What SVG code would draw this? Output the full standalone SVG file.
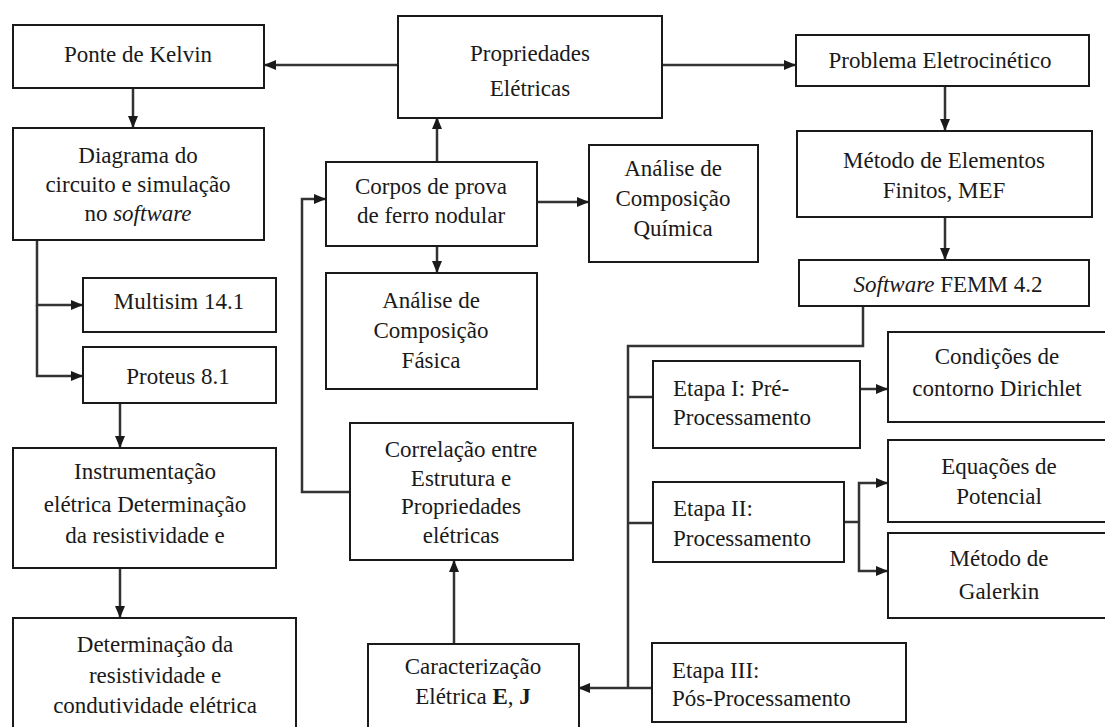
<svg xmlns="http://www.w3.org/2000/svg" width="1105" height="727" viewBox="0 0 1105 727">
<style>
.box{fill:#fff;stroke:#1a1a1a;stroke-width:2}
.t{font-size:23px;fill:#1a1a1a;text-anchor:middle}
.l{text-anchor:start}
.c{fill:none;stroke:#333;stroke-width:2.5}
</style>
<defs>
<marker id="ah" markerUnits="userSpaceOnUse" markerWidth="12" markerHeight="12" viewBox="0 0 12 12" refX="11" refY="6" orient="auto">
<path d="M0,1 L12,6 L0,11 z" fill="#1a1a1a"/>
</marker>
</defs>
<rect width="1105" height="727" fill="#fff"/>
<g id="connectors">
<line class="c" x1="398" y1="65" x2="265" y2="65" marker-end="url(#ah)"/>
<line class="c" x1="662" y1="65" x2="795" y2="65" marker-end="url(#ah)"/>
<line class="c" x1="133" y1="88" x2="133" y2="127" marker-end="url(#ah)"/>
<line class="c" x1="437" y1="162" x2="437" y2="118" marker-end="url(#ah)"/>
<line class="c" x1="537" y1="202" x2="588" y2="202" marker-end="url(#ah)"/>
<line class="c" x1="437" y1="246" x2="437" y2="272" marker-end="url(#ah)"/>
<path class="c" d="M350,492 H302 V199 H325" marker-end="url(#ah)"/>
<path class="c" d="M37,240 V305 H82" marker-end="url(#ah)"/>
<path class="c" d="M37,305 V376 H82" marker-end="url(#ah)"/>
<line class="c" x1="120" y1="403" x2="120" y2="447" marker-end="url(#ah)"/>
<line class="c" x1="120" y1="568" x2="120" y2="617" marker-end="url(#ah)"/>
<line class="c" x1="945" y1="86" x2="945" y2="130" marker-end="url(#ah)"/>
<line class="c" x1="945" y1="217" x2="945" y2="259" marker-end="url(#ah)"/>
<path class="c" d="M863,306 V346 H628 V688"/>
<path class="c" d="M628,397 H653"/>
<path class="c" d="M628,523 H653"/>
<path class="c" d="M652,688 H579" marker-end="url(#ah)"/>
<path class="c" d="M860,389 H887" marker-end="url(#ah)"/>
<path class="c" d="M844,522 H859"/>
<path class="c" d="M859,522 V483 H887" marker-end="url(#ah)"/>
<path class="c" d="M859,522 V571 H887" marker-end="url(#ah)"/>
<line class="c" x1="454" y1="643" x2="454" y2="561" marker-end="url(#ah)"/>
</g>
<g id="ponte" font-family="Liberation Serif"><rect class="box" x="13" y="25" width="251" height="63"/><text font-family="Liberation Serif" class="t" x="138" y="62">Ponte de Kelvin</text></g>
<g id="propriedades" font-family="Liberation Serif"><rect class="box" x="398" y="16" width="264" height="102"/><text font-family="Liberation Serif" class="t" x="530" y="61">Propriedades</text><text font-family="Liberation Serif" class="t" x="530" y="96">Elétricas</text></g>
<g id="problema" font-family="Liberation Serif"><rect class="box" x="796" y="35" width="293" height="51"/><text font-family="Liberation Serif" class="t" x="940" y="68">Problema Eletrocinético</text></g>
<g id="diagrama" font-family="Liberation Serif"><rect class="box" x="13" y="128" width="251" height="112"/><text font-family="Liberation Serif" class="t" x="138" y="163">Diagrama do</text><text font-family="Liberation Serif" class="t" x="138" y="192">circuito e simulação</text><text font-family="Liberation Serif" class="t" x="138" y="221">no <tspan font-style="italic">software</tspan></text></g>
<g id="corpos" font-family="Liberation Serif"><rect class="box" x="326" y="162" width="211" height="84"/><text font-family="Liberation Serif" class="t" x="431" y="194">Corpos de prova</text><text font-family="Liberation Serif" class="t" x="431" y="223">de ferro nodular</text></g>
<g id="quimica" font-family="Liberation Serif"><rect class="box" x="589" y="145" width="169" height="117"/><text font-family="Liberation Serif" class="t" x="673" y="176">Análise de</text><text font-family="Liberation Serif" class="t" x="673" y="206">Composição</text><text font-family="Liberation Serif" class="t" x="673" y="236">Química</text></g>
<g id="mef" font-family="Liberation Serif"><rect class="box" x="797" y="131" width="295" height="86"/><text font-family="Liberation Serif" class="t" x="944" y="168">Método de Elementos</text><text font-family="Liberation Serif" class="t" x="944" y="198">Finitos, MEF</text></g>
<g id="femm" font-family="Liberation Serif"><rect class="box" x="799" y="260" width="290" height="46"/><text font-family="Liberation Serif" class="t" x="948" y="292"><tspan font-style="italic">Software</tspan> FEMM 4.2</text></g>
<g id="multisim" font-family="Liberation Serif"><rect class="box" x="83" y="278" width="193" height="54"/><text font-family="Liberation Serif" class="t" x="179" y="309">Multisim  14.1</text></g>
<g id="proteus" font-family="Liberation Serif"><rect class="box" x="83" y="347" width="193" height="56"/><text font-family="Liberation Serif" class="t" x="178" y="384">Proteus 8.1</text></g>
<g id="fisica" font-family="Liberation Serif"><rect class="box" x="326" y="273" width="211" height="116"/><text font-family="Liberation Serif" class="t" x="431" y="308">Análise de</text><text font-family="Liberation Serif" class="t" x="431" y="338">Composição</text><text font-family="Liberation Serif" class="t" x="431" y="368">Fásica</text></g>
<g id="correlacao" font-family="Liberation Serif"><rect class="box" x="350" y="423" width="223" height="137"/><text font-family="Liberation Serif" class="t" x="461" y="457">Correlação entre</text><text font-family="Liberation Serif" class="t" x="461" y="486">Estrutura e</text><text font-family="Liberation Serif" class="t" x="461" y="514">Propriedades</text><text font-family="Liberation Serif" class="t" x="461" y="543">elétricas</text></g>
<g id="instrumentacao" font-family="Liberation Serif"><rect class="box" x="13" y="448" width="263" height="120"/><text font-family="Liberation Serif" class="t" x="145" y="479">Instrumentação</text><text font-family="Liberation Serif" class="t" x="145" y="512">elétrica Determinação</text><text font-family="Liberation Serif" class="t" x="145" y="543">da resistividade e</text></g>
<g id="determinacao" font-family="Liberation Serif"><rect class="box" x="13" y="618" width="283" height="120"/><text font-family="Liberation Serif" class="t" x="155" y="652">Determinação da</text><text font-family="Liberation Serif" class="t" x="155" y="683">resistividade e</text><text font-family="Liberation Serif" class="t" x="155" y="713">condutividade elétrica</text></g>
<g id="caracterizacao" font-family="Liberation Serif"><rect class="box" x="368" y="644" width="211" height="100"/><text font-family="Liberation Serif" class="t" x="473" y="674">Caracterização</text><text font-family="Liberation Serif" class="t" x="473" y="704">Elétrica <tspan font-weight="bold">E</tspan>, <tspan font-weight="bold">J</tspan></text></g>
<g id="etapa1" font-family="Liberation Serif"><rect class="box" x="653" y="361" width="207" height="87"/><text font-family="Liberation Serif" class="t l" x="673" y="396">Etapa I: Pré-</text><text font-family="Liberation Serif" class="t l" x="673" y="425">Processamento</text></g>
<g id="etapa2" font-family="Liberation Serif"><rect class="box" x="653" y="482" width="191" height="80"/><text font-family="Liberation Serif" class="t l" x="673" y="516">Etapa II:</text><text font-family="Liberation Serif" class="t l" x="673" y="546">Processamento</text></g>
<g id="etapa3" font-family="Liberation Serif"><rect class="box" x="652" y="643" width="254" height="79"/><text font-family="Liberation Serif" class="t l" x="672" y="678">Etapa III:</text><text font-family="Liberation Serif" class="t l" x="672" y="706">Pós-Processamento</text></g>
<g id="dirichlet" font-family="Liberation Serif"><rect class="box" x="888" y="332" width="230" height="90"/><text font-family="Liberation Serif" class="t" x="997" y="364">Condições de</text><text font-family="Liberation Serif" class="t" x="997" y="396">contorno Dirichlet</text></g>
<g id="potencial" font-family="Liberation Serif"><rect class="box" x="888" y="440" width="230" height="82"/><text font-family="Liberation Serif" class="t" x="999" y="474">Equações de</text><text font-family="Liberation Serif" class="t" x="999" y="504">Potencial</text></g>
<g id="galerkin" font-family="Liberation Serif"><rect class="box" x="888" y="533" width="230" height="85"/><text font-family="Liberation Serif" class="t" x="999" y="566">Método de</text><text font-family="Liberation Serif" class="t" x="999" y="599">Galerkin</text></g>
</svg>
